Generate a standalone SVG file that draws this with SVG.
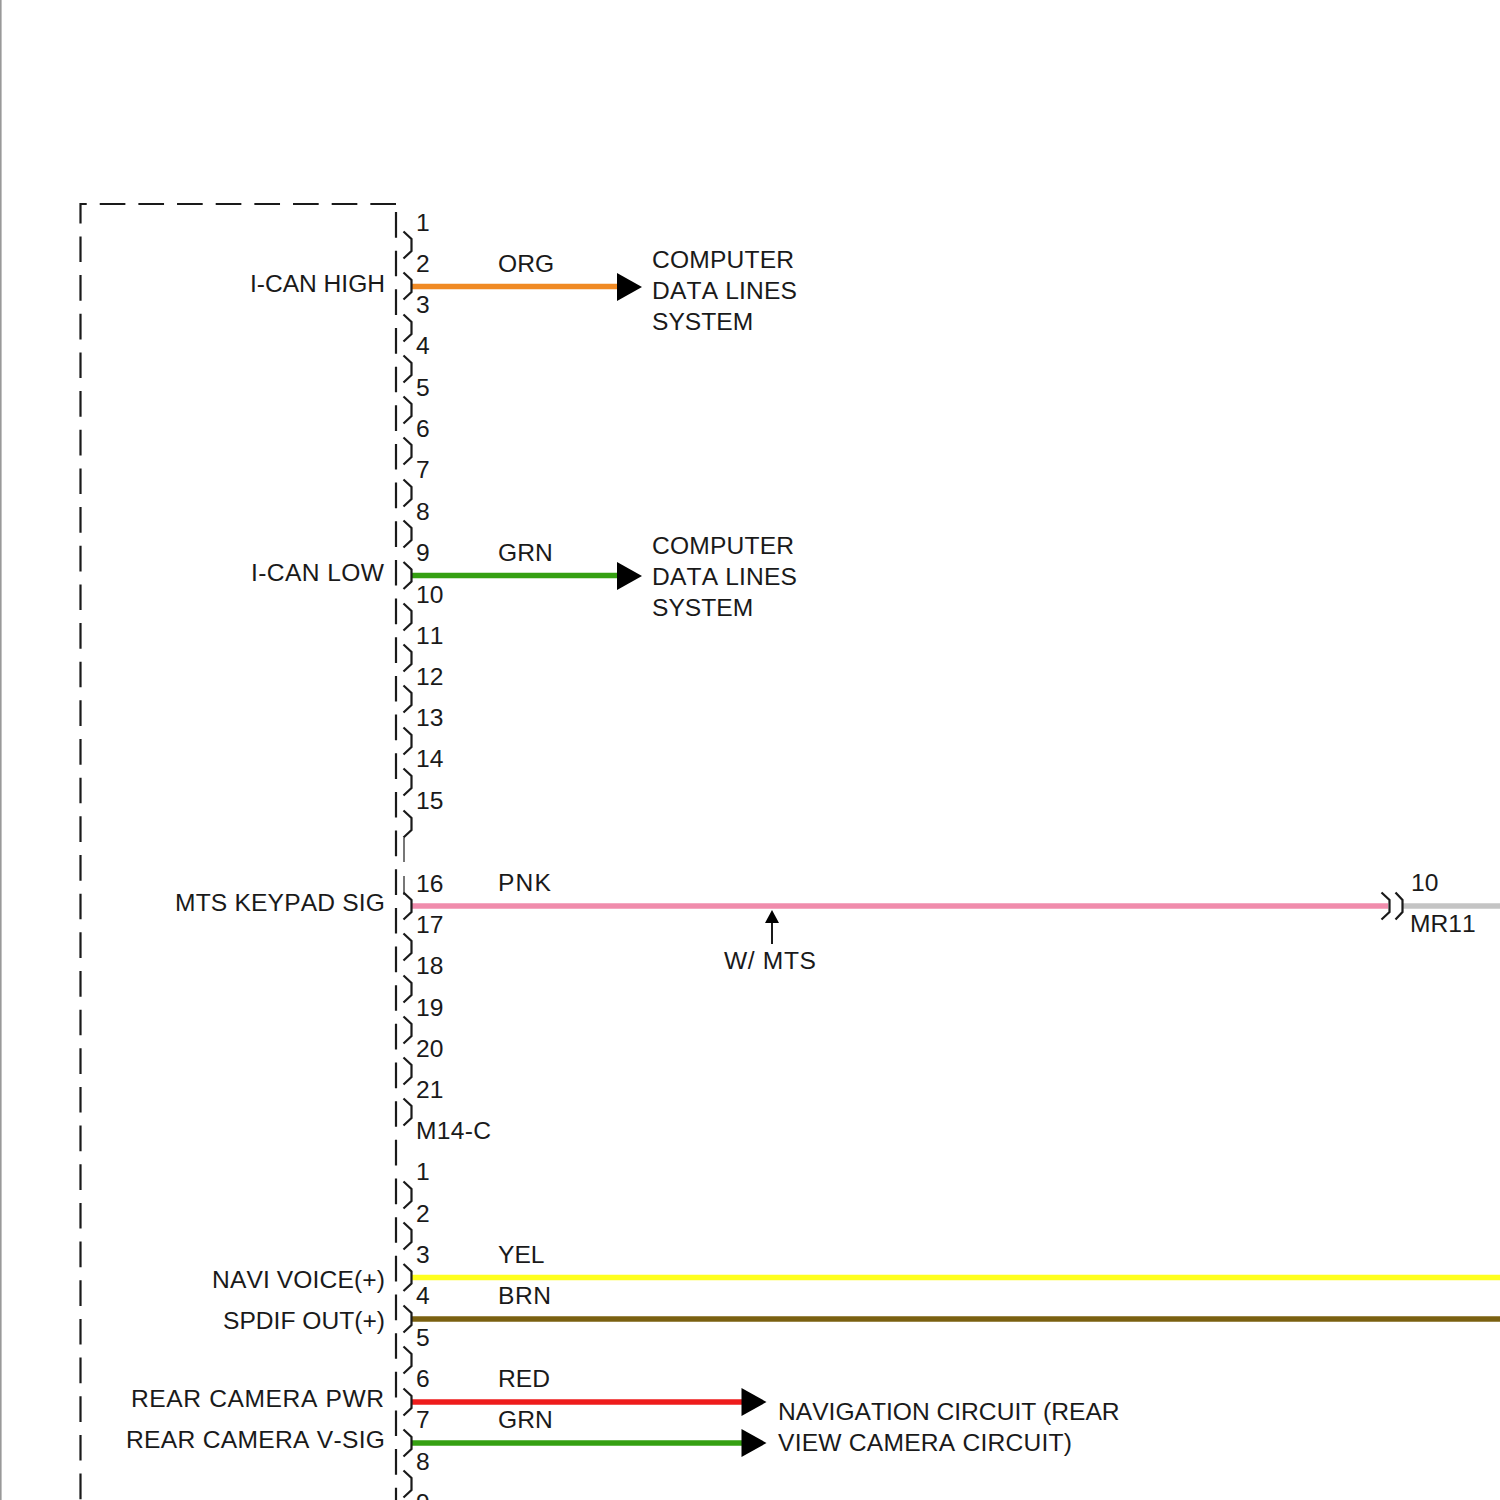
<svg xmlns="http://www.w3.org/2000/svg" width="1500" height="1500" viewBox="0 0 1500 1500">
<style>
text{font-family:"Liberation Sans",Arial,sans-serif;font-size:24.6px;fill:#1a1a1a;font-kerning:none}
.r{text-anchor:end}
.b{fill:none;stroke:#1a1a1a;stroke-width:2.2}
.d{fill:none;stroke:#1a1a1a;stroke-width:2.2;stroke-dasharray:25.66 13}
.w{fill:none;stroke-width:5.4}
</style>
<defs>
<path id="br" class="b" d="M403.500,-13.500L411.500,-6V6L403.500,13.500"/>
<polygon id="ah" points="0,-14 25,0 0,14" fill="#000"/>
</defs>
<rect width="1500" height="1500" fill="#fff"/>
<rect x="0" y="0" width="1.6" height="1500" fill="#999"/>
<g id="connectors">
<path class="w" stroke="#f08a24" d="M411,286.500H618"/>
<path class="w" stroke="#35a012" d="M411,575.500H618"/>
<path class="w" stroke="#f08cac" d="M411,906H1388"/>
<path class="w" stroke="#c4c4c4" d="M1403,906H1500"/>
<path class="w" stroke="#ffff1e" d="M411,1277.500H1500"/>
<path class="w" stroke="#7a6010" d="M411,1319H1500"/>
<path class="w" stroke="#ee1c1c" d="M411,1402H742"/>
<path class="w" stroke="#35a012" d="M411,1443H742"/>
<use href="#ah" x="617" y="287"/>
<use href="#ah" x="617" y="576"/>
<use href="#ah" x="741.500" y="1402"/>
<use href="#ah" x="741.500" y="1443"/>
<path d="M772,944V920" fill="none" stroke="#1a1a1a" stroke-width="2"/>
<polygon points="772,910 779,923 765,923" fill="#000"/>
</g>
<g id="module">
<path class="d" d="M396,204H80.500V1500"/>
<path class="d" d="M396,212V1500"/>
<path d="M404,838V862M404,876V895" fill="none" stroke="#777" stroke-width="2"/>
<g id="terminals">
<use href="#br" y="245"/><use href="#br" y="286"/><use href="#br" y="328"/><use href="#br" y="369"/><use href="#br" y="410"/><use href="#br" y="451"/><use href="#br" y="493"/><use href="#br" y="534"/><use href="#br" y="575.500"/><use href="#br" y="617"/><use href="#br" y="658"/><use href="#br" y="699"/><use href="#br" y="741"/><use href="#br" y="782"/><use href="#br" y="824"/><use href="#br" y="906"/><use href="#br" y="947"/><use href="#br" y="989"/><use href="#br" y="1030"/><use href="#br" y="1071"/><use href="#br" y="1112"/><use href="#br" y="1195"/><use href="#br" y="1236"/><use href="#br" y="1277.500"/><use href="#br" y="1319"/><use href="#br" y="1360"/><use href="#br" y="1402"/><use href="#br" y="1443"/><use href="#br" y="1484"/>
</g>
<g id="pin-labels">
<text x="416" y="230.500">1</text><text x="416" y="271.500">2</text><text x="416" y="312.500">3</text><text x="416" y="353.500">4</text><text x="416" y="395.500">5</text><text x="416" y="436.500">6</text><text x="416" y="477.500">7</text><text x="416" y="519.500">8</text><text x="416" y="560.500">9</text><text x="416" y="602.500">10</text><text x="416" y="643.500">11</text><text x="416" y="684.500">12</text><text x="416" y="725.500">13</text><text x="416" y="766.500">14</text><text x="416" y="808.500">15</text><text x="416" y="891.500">16</text><text x="416" y="932.500">17</text><text x="416" y="973.500">18</text><text x="416" y="1015.500">19</text><text x="416" y="1056.500">20</text><text x="416" y="1097.500">21</text><text x="416" y="1138.500" textLength="75">M14-C</text><text x="416" y="1179.500">1</text><text x="416" y="1221.500">2</text><text x="416" y="1262.500">3</text><text x="416" y="1303.500">4</text><text x="416" y="1345.500">5</text><text x="416" y="1386.500">6</text><text x="416" y="1427.500">7</text><text x="416" y="1469.500">8</text><text x="416" y="1510.500">9</text>
</g>
<g id="signal-labels">
<text x="250" y="291.500" textLength="135">I-CAN HIGH</text>
<text x="251" y="580.500" textLength="133">I-CAN LOW</text>
<text x="175" y="910.500" textLength="210">MTS KEYPAD SIG</text>
<text x="212" y="1287.500" textLength="173">NAVI VOICE(+)</text>
<text x="223" y="1328.500" textLength="162">SPDIF OUT(+)</text>
<text x="131" y="1406.500" textLength="253">REAR CAMERA PWR</text>
<text x="126" y="1447.500" textLength="259">REAR CAMERA V-SIG</text>
</g>
</g>
<g id="wire-labels">
<text x="498" y="271.500">ORG</text>
<text x="498" y="560.500">GRN</text>
<text x="498" y="890.500" textLength="53">PNK</text>
<text x="498" y="1262.500">YEL</text>
<text x="498" y="1303.500" textLength="53">BRN</text>
<text x="498" y="1386.500">RED</text>
<text x="498" y="1427.500">GRN</text>
</g>
<g id="dest-computer-1"><text x="652" y="267.500" textLength="142">COMPUTER</text><text x="652" y="298.500" textLength="145">DATA LINES</text><text x="652" y="329.500">SYSTEM</text></g>
<g id="dest-computer-2"><text x="652" y="553.500" textLength="142">COMPUTER</text><text x="652" y="584.500" textLength="145">DATA LINES</text><text x="652" y="615.500">SYSTEM</text></g>
<g id="note-mts"><text x="724" y="968.500" textLength="92">W/ MTS</text></g>
<g id="connector-mr11">
<path class="b" d="M1381.500,892.500L1389.500,900V912L1381.500,919.500M1395.500,892.500L1402.500,900V912L1395.500,919.500"/>
<text x="1411" y="890.500">10</text><text x="1410" y="931.500">MR11</text>
</g>
<g id="dest-navigation"><text x="778" y="1419.500">NAVIGATION CIRCUIT (REAR</text><text x="778" y="1450.500" textLength="294">VIEW CAMERA CIRCUIT)</text></g>
</svg>
